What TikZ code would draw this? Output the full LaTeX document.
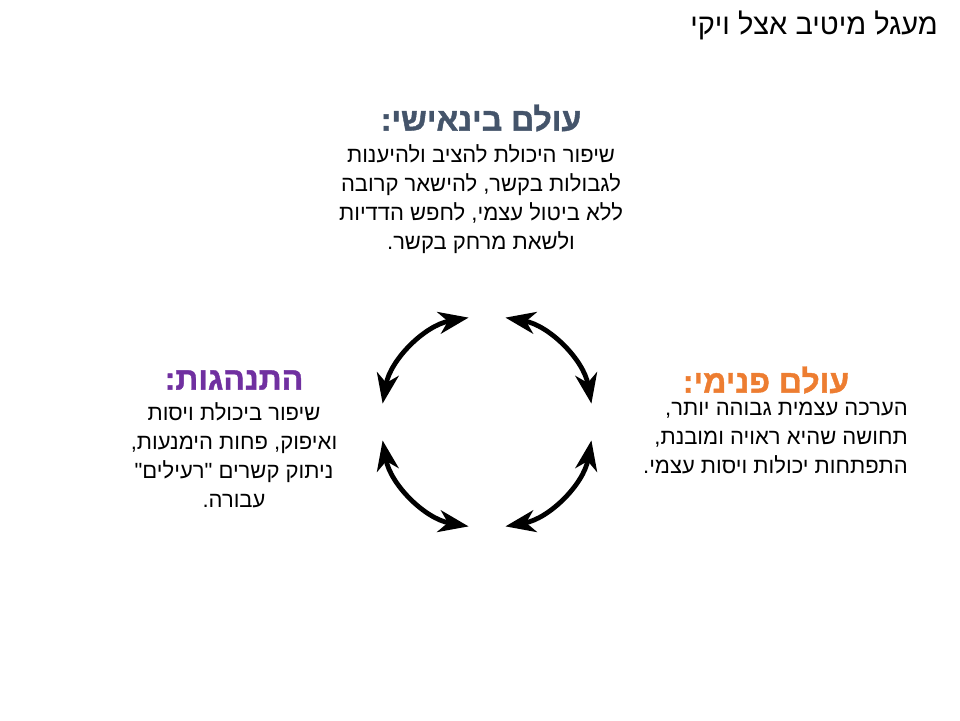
\documentclass[tikz,border=0pt]{standalone}
\usepackage{fontspec}
\usetikzlibrary{arrows.meta}
\TeXXeTstate=1
\setmainfont[Script=Hebrew,Ligatures=TeXOff]{Liberation Sans}
\newfontfamily\headfont[Script=Hebrew,FakeBold=1.3]{Liberation Sans Bold}
\newcommand{\heb}[1]{\beginR #1\endR}
\definecolor{slate}{HTML}{44546A}
\definecolor{purp}{HTML}{7030A0}
\definecolor{orng}{HTML}{ED7D31}
\begin{document}
\begin{tikzpicture}[x=1pt,y=-1pt,
  head/.style={font=\fontsize{32}{36}\headfont, inner sep=0pt},
  body/.style={font=\fontsize{22}{29}\selectfont, inner sep=0pt, align=center},
  cyc/.style={line width=4.8pt, {Stealth[length=30pt,width=22pt,inset=9pt]}-{Stealth[length=30pt,width=22pt,inset=9pt]}}]
\useasboundingbox (0,0) rectangle (960,720);
\node[anchor=east, font=\fontsize{29}{32}\selectfont, inner sep=0pt] (title) at (938,25) {\heb{מעגל מיטיב אצל ויקי}};
% top
\node[head, text=slate] (toph) at (481,118) {\heb{עולם בינאישי:}};
\node[body, anchor=north] (topb) at (481,144) {\heb{שיפור היכולת להציב ולהיענות}\\\heb{לגבולות בקשר, להישאר קרובה}\\\heb{ללא ביטול עצמי, לחפש הדדיות}\\\heb{ולשאת מרחק בקשר.}};
% left
\node[head, text=purp] (lefth) at (234,380) {\heb{התנהגות:}};
\node[body, anchor=north] (leftb) at (234,402) {\heb{שיפור ביכולת ויסות}\\\heb{ואיפוק,  פחות הימנעות,}\\\heb{ניתוק קשרים "רעילים"}\\\heb{עבורה.}};
% right
\node[head, text=orng] (righth) at (766,380) {\heb{עולם פנימי:}};
\node[body, anchor=north east, align=right] (rightb) at (908,402) {\heb{הערכה עצמית גבוהה יותר,}\\\heb{תחושה שהיא ראויה ומובנת,}\\\heb{התפתחות יכולות ויסות עצמי.}};
% cycle
\coordinate (c) at (487,422);
\draw[cyc] (c) ++(80:106) arc[start angle=80,end angle=10,radius=106];
\draw[cyc] (c) ++(100:106) arc[start angle=100,end angle=170,radius=106];
\draw[cyc] (c) ++(190:106) arc[start angle=190,end angle=260,radius=106];
\draw[cyc] (c) ++(280:106) arc[start angle=280,end angle=350,radius=106];
\end{tikzpicture}
\end{document}
